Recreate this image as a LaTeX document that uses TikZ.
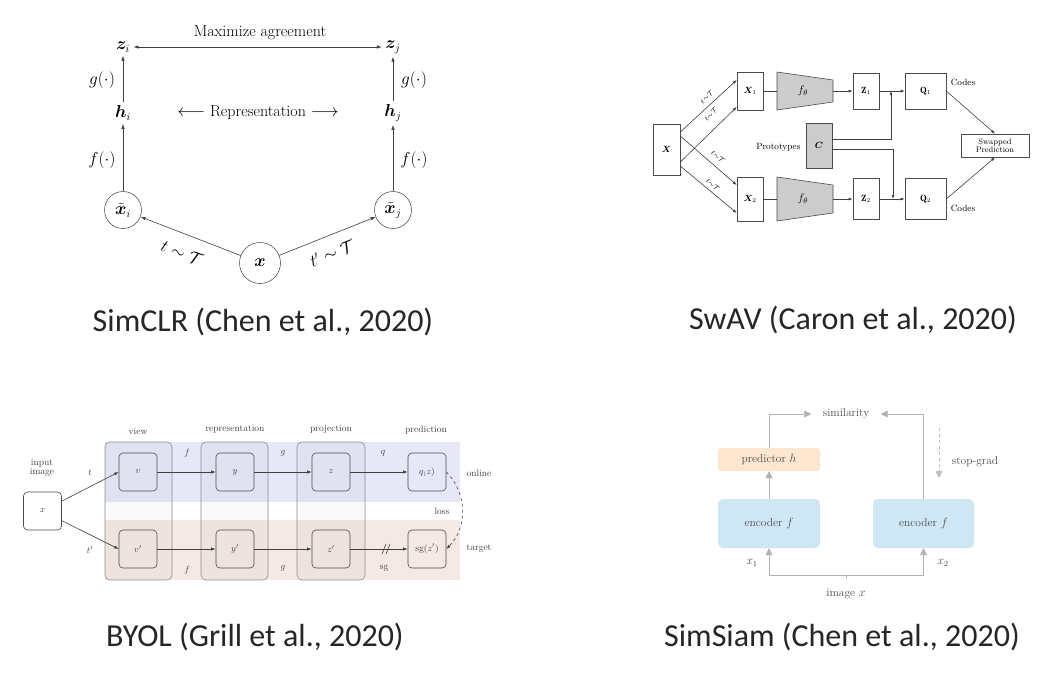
\documentclass[tikz,border=0pt]{standalone}
\usepackage{amsmath,amssymb,bm}
\usepackage{fontspec}
\newfontfamily\capfont{Carlito}
\usetikzlibrary{arrows.meta,calc}
\definecolor{bandblue}{HTML}{E6E8F8}
\definecolor{bandpink}{HTML}{F5E9E6}
\definecolor{encblue}{HTML}{CFE6F5}
\definecolor{predpeach}{HTML}{FCE6CF}
\definecolor{capcol}{HTML}{262626}
\begin{document}
\begin{tikzpicture}[x=1pt,y=-1pt,
  ar/.style={-{Latex[length=5pt,width=3.5pt]}, line width=0.6pt, draw=black!75},
  dar/.style={{Latex[length=5pt,width=3.5pt]}-{Latex[length=5pt,width=3.5pt]}, line width=0.6pt, draw=black!75},
  captxt/.style={font=\capfont\fontsize{32}{37}\selectfont, text=capcol},
  swbox/.style={draw=black!70, line width=0.6pt, inner sep=0pt},
  swar/.style={-{Latex[length=4pt,width=3pt]}, line width=0.6pt, draw=black!75},
  swln/.style={line width=0.6pt, draw=black!75},
  bybox/.style={draw=black!70, rounded corners=4pt, minimum size=38pt, inner sep=0pt, line width=0.6pt},
  colbox/.style={draw=black!45, rounded corners=5pt, fill=black, fill opacity=0.025, draw opacity=1, inner sep=0pt, line width=0.6pt},
  byar/.style={-{Latex[length=4.5pt,width=3.2pt]}, line width=0.6pt, draw=black!75},
  bytxt/.style={font=\fontsize{9.5}{11}\selectfont, text=black!75},
  ssar/.style={-{Triangle[length=7pt,width=7pt]}, draw=black!30, line width=0.8pt},
  sstxt/.style={font=\fontsize{11.5}{13}\selectfont, text=black!70},
]
\useasboundingbox (0,0) rectangle (1060,678);
\fill[white] (0,0) rectangle (1060,678);

% ================= SimCLR =================
\begin{scope}[font=\fontsize{16}{19}\selectfont]
\node (zi) at (123,47) {$\bm{z}_i$};
\node (zj) at (393,47) {$\bm{z}_j$};
\node (hi) at (123,113) {$\bm{h}_i$};
\node (hj) at (393,113) {$\bm{h}_j$};
\node[circle,draw=black!75,line width=0.5pt,minimum size=37pt,inner sep=0pt] (xti) at (123,210) {$\tilde{\bm{x}}_i$};
\node[circle,draw=black!75,line width=0.5pt,minimum size=37pt,inner sep=0pt] (xtj) at (393,210) {$\tilde{\bm{x}}_j$};
\node[circle,draw=black!75,line width=0.5pt,minimum size=41pt,inner sep=0pt] (xx) at (260,263) {$\bm{x}$};
\node (agree) at (260,33) {Maximize agreement};
\node (repr) at (258,113) {$\longleftarrow$ Representation $\longrightarrow$};
\node (gi) at (102,80) {$g(\cdot)$};
\node (gj) at (414,80) {$g(\cdot)$};
\node (fi) at (102,160) {$f(\cdot)$};
\node (fj) at (414,160) {$f(\cdot)$};
\node[rotate=-21] (tl) at (182,253) {$t\sim\mathcal{T}$};
\node[rotate=21] (tr) at (332,253) {$t'\sim\mathcal{T}$};
\draw[dar] (zi) -- (zj);
\draw[ar] (hi) -- (zi);
\draw[ar] (hj) -- (zj);
\draw[ar] (xti) -- (hi);
\draw[ar] (xtj) -- (hj);
\draw[ar] (xx) -- (xti);
\draw[ar] (xx) -- (xtj);
\end{scope}

% ================= SwAV =================
\begin{scope}[font=\fontsize{9}{10}\selectfont]
\node[swbox,minimum width=27pt,minimum height=51pt] (SX) at (666.5,149.5) {$\bm{X}$};
\node[swbox,minimum width=26pt,minimum height=38pt] (SX1) at (750,91) {$\bm{X}_1$};
\node[swbox,minimum width=26pt,minimum height=44pt] (SX2) at (750,199) {$\bm{X}_2$};
\filldraw[fill=black!20, draw=black!70, line width=0.6pt] (777,72) -- (833,80) -- (833,102) -- (777,110) -- cycle;
\filldraw[fill=black!20, draw=black!70, line width=0.6pt] (777,177) -- (833,185) -- (833,213) -- (777,221) -- cycle;
\node[font=\fontsize{11}{12}\selectfont] (F1) at (803,91) {$f_\theta$};
\node[font=\fontsize{11}{12}\selectfont] (F2) at (803,199) {$f_\theta$};
\coordinate (F1l) at (777,91); \coordinate (F1r) at (833,91);
\coordinate (F2l) at (777,199); \coordinate (F2r) at (833,199);
\node[swbox,minimum width=26pt,minimum height=36pt] (SZ1) at (866,91) {$\mathbf{Z}_1$};
\node[swbox,minimum width=41pt,minimum height=36pt] (SQ1) at (925.5,91) {$\mathbf{Q}_1$};
\node[swbox,minimum width=26pt,minimum height=41pt] (SZ2) at (866,199) {$\mathbf{Z}_2$};
\node[swbox,minimum width=41pt,minimum height=41pt] (SQ2) at (925.5,199) {$\mathbf{Q}_2$};
\node[swbox,fill=black!20,minimum width=26pt,minimum height=45pt] (SC) at (819,145.5) {$\bm{C}$};
\node[anchor=east] (proto) at (804,147) {Prototypes};
\node[swbox,minimum width=68pt,minimum height=23pt,align=center,font=\fontsize{8}{8.5}\selectfont] (SP) at (995,145.5) {Swapped\\Prediction};
\node (cod1) at (963,82) {Codes};
\node (cod2) at (963,208) {Codes};
\draw[swln] (SX1) -- (F1l);
\draw[swln] (SX2) -- (F2l);
\draw[swar] (F1r) -- (SZ1);
\draw[swar] (F2r) -- (SZ2);
\draw[swar] (SZ1) -- (SQ1);
\draw[swar] (SZ2) -- (SQ2);
\coordinate (j1) at (891,91); \coordinate (j2) at (893,199);
\coordinate (c1) at ($(SC.east)+(0,-6.5)$);
\coordinate (c2) at ($(SC.east)+(0,3.5)$);
\draw[swar] (c1) -| (j1);
\draw[swar] (c2) -| (j2);
\draw[swar] (SQ1.east) -- (SP.north);
\draw[swar] (SQ2.east) -- (SP.south);
\coordinate (xa) at ($(SX.east)+(0,-17.5)$);
\coordinate (xb) at ($(SX.east)+(0,12.5)$);
\coordinate (xc) at ($(SX.east)+(0,-13.5)$);
\coordinate (xd) at ($(SX.east)+(0,16.5)$);
\coordinate (x1a) at ($(SX1.west)+(0,-11)$);
\coordinate (x1b) at ($(SX1.west)+(0,16)$);
\coordinate (x2a) at ($(SX2.west)+(0,-14)$);
\coordinate (x2b) at ($(SX2.west)+(0,14)$);
\draw[swar] (xa) -- (x1a);
\draw[swar] (xb) -- (x1b);
\draw[swar] (xc) -- (x2a);
\draw[swar] (xd) -- (x2b);
\node[rotate=42,font=\fontsize{7}{8}\selectfont] (ta) at (707,97) {$t{\sim}\mathcal{T}$};
\node[rotate=44,font=\fontsize{7}{8}\selectfont] (tb) at (711,114) {$t{\sim}\mathcal{T}$};
\node[rotate=-41,font=\fontsize{7}{8}\selectfont] (tc) at (718,157) {$t{\sim}\mathcal{T}$};
\node[rotate=-43,font=\fontsize{7}{8}\selectfont] (td) at (713,185) {$t{\sim}\mathcal{T}$};
\end{scope}

% ================= BYOL =================
\fill[bandblue] (105,442) rectangle (460,502);
\fill[bandpink] (105,520) rectangle (460,580);
\node[colbox,minimum width=67pt,minimum height=138pt] (cview) at (138.5,511) {};
\node[colbox,minimum width=67pt,minimum height=138pt] (crepr) at (234.5,511) {};
\node[colbox,minimum width=68pt,minimum height=138pt] (cproj) at (331,511) {};
\begin{scope}[bytxt]
\node[bybox] (bx) at (42.5,511) {$x$};
\node[bybox] (bv) at (138,472) {$v$};
\node[bybox] (by) at (235,472) {$y$};
\node[bybox] (bz) at (331,472) {$z$};
\node[bybox] (bq) at (427,472) {$q_{\scriptscriptstyle (}z)$};
\node[bybox] (bv2) at (138,549) {$v'$};
\node[bybox] (by2) at (235,549) {$y'$};
\node[bybox] (bz2) at (331,549) {$z'$};
\node[bybox] (bsg) at (427,549) {$\mathrm{sg}(z')$};
\node[align=center] (inimg) at (42,468) {input\\[-2pt]image};
\node (lview) at (138,431) {view};
\node (lrepr) at (235,429) {representation};
\node (lproj) at (331,429) {projection};
\node (lpred) at (426,430) {prediction};
\node (lt) at (90,473) {$t$};
\node (lt2) at (90,550) {$t'$};
\node (lf1) at (187,453) {$f$};
\node (lf2) at (187,570) {$f$};
\node (lg1) at (283,453) {$g$};
\node (lg2) at (283,568) {$g$};
\node (lq) at (383,453) {$q$};
\node (lsg) at (384,568) {sg};
\node (lon) at (479,473) {online};
\node (ltar) at (479,549) {target};
\node (lloss) at (442,511) {loss};
\end{scope}
\draw[byar] (bx) -- (bv.west);
\draw[byar] (bx) -- (bv2.west);
\draw[byar] (bv) -- (by);
\draw[byar] (by) -- (bz);
\draw[byar] (bz) -- (bq);
\draw[byar] (bv2) -- (by2);
\draw[byar] (by2) -- (bz2);
\draw[byar] (bz2) -- (bsg);
\draw[byar, dashed] (bq.east) to[bend left=45] (bsg.east);
\draw[line width=0.6pt, black!75] (382,554) -- (386,544);
\draw[line width=0.6pt, black!75] (386,554) -- (390,544);

% ================= SimSiam =================
\begin{scope}[sstxt]
\node[fill=predpeach, rounded corners=3pt, minimum width=102pt, minimum height=23pt] (pred) at (769,459.5) {predictor $h$};
\node[fill=encblue, rounded corners=5pt, minimum width=102pt, minimum height=49pt] (enc1) at (769,523.5) {encoder $f$};
\node[fill=encblue, rounded corners=5pt, minimum width=101pt, minimum height=49pt] (enc2) at (923.5,523.5) {encoder $f$};
\node (sim) at (846,414) {similarity};
\node (stopg) at (975,462) {stop-grad};
\node (lx1) at (752,563) {$x_1$};
\node (lx2) at (943,563) {$x_2$};
\node (img) at (846,594) {image $x$};
\node[text=black!25, font=\fontsize{8}{9}\selectfont] (xmark) at (939,450) {$\times$};
\end{scope}
\draw[ssar] (enc1) -- (pred);
\draw[ssar] (pred.north) |- ([xshift=-8pt]sim.west);
\draw[ssar] (enc2.north) |- ([xshift=8pt]sim.east);
\coordinate (brc) at (846,575);
\draw[ssar] (brc) -| (enc1.south);
\draw[ssar] (brc) -| (enc2.south);
\draw[draw=black!30, line width=0.8pt] (brc) -- ++(0,3);
\coordinate (sga) at (939,428);
\coordinate (sgb) at (939,478);
\draw[ssar, dashed, draw=black!25] (sga) -- (sgb);

% ================= captions =================
\node[captxt] (capa) at (263,322) {SimCLR (Chen et al., 2020)};
\node[captxt] (capb) at (853,320) {SwAV (Caron et al., 2020)};
\node[captxt] (capc) at (255,637) {BYOL (Grill et al., 2020)};
\node[captxt] (capd) at (842,637) {SimSiam (Chen et al., 2020)};
\end{tikzpicture}
\end{document}
